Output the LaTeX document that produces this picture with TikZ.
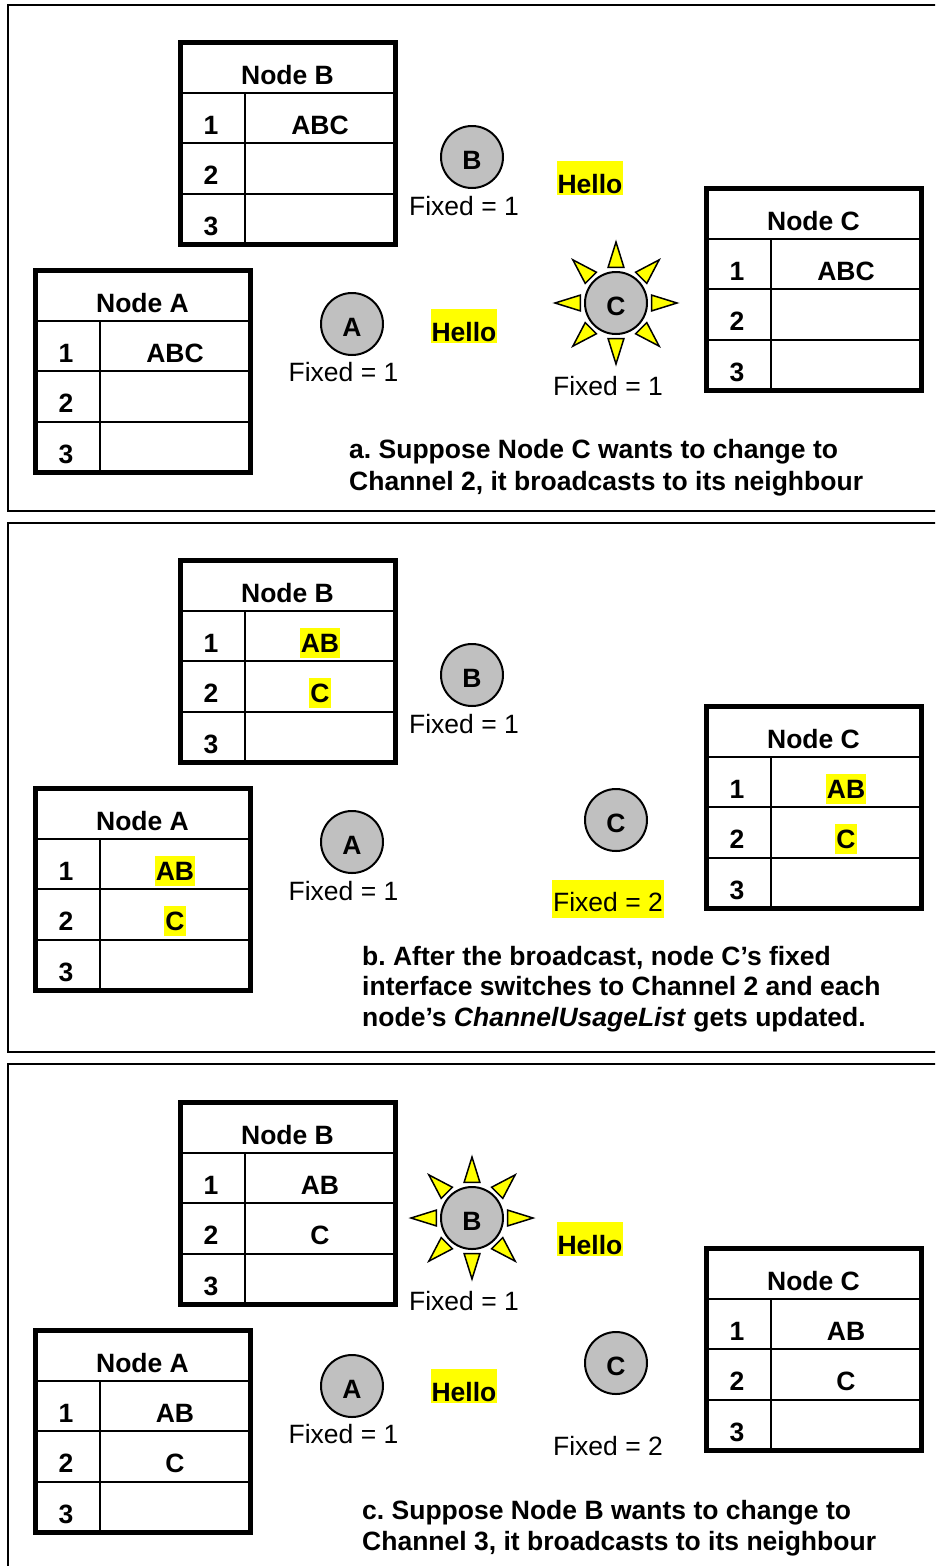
\documentclass[tikz,border=0pt]{standalone}
\usepackage{fontspec}
\setmainfont{Liberation Sans}
\frenchspacing
\definecolor{cgray}{RGB}{192,192,192}
\definecolor{hlyellow}{RGB}{255,255,0}
\newcommand{\fsz}{\fontsize{26.5}{31}\selectfont}
\tikzset{
  panel/.style={line width=2pt},
  gridline/.style={line width=2pt},
  frameline/.style={line width=5pt},
  txt/.style={font=\fsz, inner sep=0pt, anchor=base},
  btxt/.style={font=\fsz\bfseries, inner sep=0pt, anchor=base},
  bitxt/.style={font=\fsz\bfseries, inner sep=0pt, anchor=base west},
  hlbold/.style={btxt, fill=hlyellow, inner xsep=1pt, inner ysep=0pt, text height=25pt, text depth=5pt},
  hlhello/.style={btxt, fill=hlyellow, inner xsep=1pt, inner ysep=0pt, text height=33pt, text depth=1pt},
  hlfixed/.style={txt, fill=hlyellow, inner xsep=1pt, inner ysep=0pt, text height=32pt, text depth=6.5pt},
  nodecirc/.style={circle, draw, line width=2pt, fill=cgray, minimum size=62pt, inner sep=0pt,
                   font=\fsz\bfseries, text height=25pt, text depth=0pt},
  ray/.style={draw, line width=1.5pt, fill=hlyellow, line join=miter},
}
% #1 prefix, #2 X, #3 Y, #4 title, #5 style of rows 1-2, #6 row1, #7 row2, #8 row3
\newcommand{\ntab}[8]{%
\begin{scope}[shift={(#2,#3)}]
  \draw[gridline] (0,50.5)--(215,50.5) (0,101)--(215,101) (0,152)--(215,152) (65,50.5)--(65,202);
  \draw[frameline] (0,0) rectangle (215,202);
  \node[btxt] (#1t) at (107.5,42.3) {#4};
  \node[btxt] (#1n1) at (31,92.5) {1};
  \node[btxt] (#1n2) at (31,142.5) {2};
  \node[btxt] (#1n3) at (31,193) {3};
  \node[#5] (#1r1) at (140,92.5) {#6};
  \node[#5] (#1r2) at (140,142.5) {#7};
  \node[btxt] (#1r3) at (140,193) {#8};
\end{scope}}
\newcommand{\sunrays}[1]{%
\begin{scope}[shift={(#1.center)}]
  \foreach \a in {0,45,...,315}{
    \draw[ray] (\a:61) -- (\a+12.5:36.5) -- (\a-12.5:36.5) -- cycle;
  }
\end{scope}}
\begin{document}
\begin{tikzpicture}[x=1pt,y=-1pt]
\useasboundingbox (0,0) rectangle (935,1566);
\clip (0,0) rectangle (935,1566);
\fill[white] (0,0) rectangle (935,1566);
% panels
\draw[panel] (8,5) rectangle (950,511);
\draw[panel] (8,523) rectangle (950,1052);
\draw[panel] (8,1064) rectangle (950,1580);

% ---------------- panel a ----------------
\ntab{aA}{35}{270}{Node A}{btxt}{ABC}{}{}
\ntab{aB}{180}{42}{Node B}{btxt}{ABC}{}{}
\ntab{aC}{706}{188}{Node C}{btxt}{ABC}{}{}
\node[nodecirc] (acB) at (472,157) {B};
\node[nodecirc] (acA) at (352,324) {A};
\node[nodecirc] (acC) at (616,303) {C};
\sunrays{acC}
\node[txt] (afB) at (464,215.5) {Fixed = 1};
\node[txt] (afA) at (343.5,381.7) {Fixed = 1};
\node[txt] (afC) at (608,395.5) {Fixed = 1};
\node[hlhello] (ah1) at (590,193.5) {Hello};
\node[hlhello] (ah2) at (464,341.7) {Hello};
\node[bitxt] (acap1) at (349,458) {a. Suppose Node C wants to change to};
\node[bitxt] (acap2) at (349,490) {Channel 2, it broadcasts to its neighbour};

% ---------------- panel b ----------------
\ntab{bA}{35}{788}{Node A}{hlbold}{AB}{C}{}
\ntab{bB}{180}{560}{Node B}{hlbold}{AB}{C}{}
\ntab{bC}{706}{706}{Node C}{hlbold}{AB}{C}{}
\node[nodecirc] (bcB) at (472,675) {B};
\node[nodecirc] (bcA) at (352,842) {A};
\node[nodecirc] (bcC) at (616,820) {C};
\node[txt] (bfB) at (464,733.5) {Fixed = 1};
\node[txt] (bfA) at (343.5,900.5) {Fixed = 1};
\node[hlfixed] (bfC) at (608,911.7) {Fixed = 2};
\node[bitxt] (bcap1) at (362,965) {b. After the broadcast, node C’s fixed};
\node[bitxt] (bcap2) at (362,995) {interface switches to Channel 2 and each};
\node[bitxt] (bcap3) at (362,1026) {node’s \textit{ChannelUsageList} gets updated.};

% ---------------- panel c ----------------
\ntab{cA}{35}{1330}{Node A}{btxt}{AB}{C}{}
\ntab{cB}{180}{1102}{Node B}{btxt}{AB}{C}{}
\ntab{cC}{706}{1248}{Node C}{btxt}{AB}{C}{}
\node[nodecirc] (ccB) at (472,1218) {B};
\node[nodecirc] (ccA) at (352,1386) {A};
\node[nodecirc] (ccC) at (616,1363) {C};
\sunrays{ccB}
\node[txt] (cfB) at (464,1310.5) {Fixed = 1};
\node[txt] (cfA) at (343.5,1443.5) {Fixed = 1};
\node[txt] (cfC) at (608,1455.5) {Fixed = 2};
\node[hlhello] (ch1) at (590,1254.5) {Hello};
\node[hlhello] (ch2) at (464,1401.5) {Hello};
\node[bitxt] (ccap1) at (362,1519) {c. Suppose Node B wants to change to};
\node[bitxt] (ccap2) at (362,1550) {Channel 3, it broadcasts to its neighbour};
\end{tikzpicture}
\end{document}
